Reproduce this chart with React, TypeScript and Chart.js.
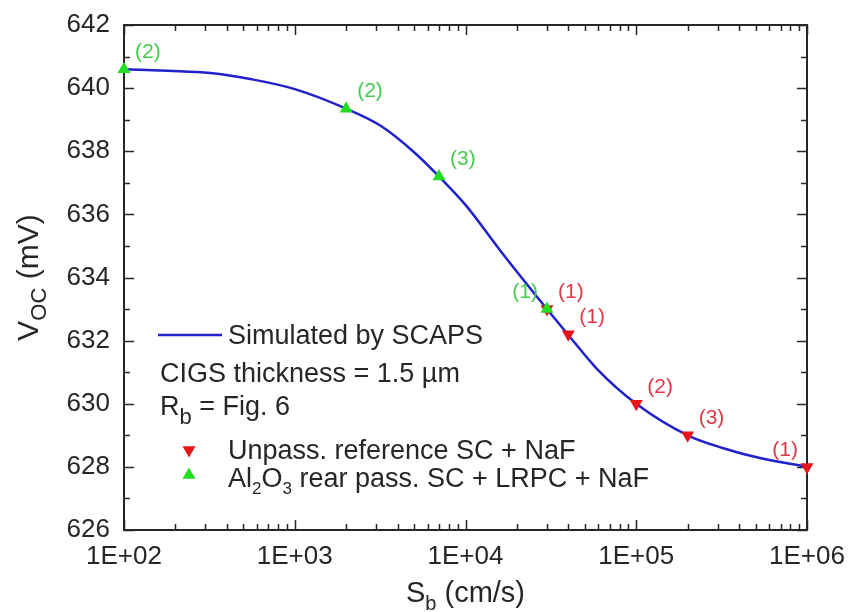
import React, { useEffect, useRef } from 'react';
import { Chart, registerables } from 'chart.js';

Chart.register(...registerables);

// ---- data ----
const curveSb = [100, 180, 320, 560, 1000, 2000, 3200, 5000, 7000, 10000, 16000, 30000, 40000, 59000, 100000, 200000, 320000, 530000, 1000000];
const curveVoc = [640.6, 640.55, 640.48, 640.28, 639.97, 639.35, 638.8, 637.97, 637.2, 636.3, 634.85, 633.0, 632.18, 631.1, 630.0, 629.0, 628.6, 628.28, 628.0];

const unpassSb = [30000, 40000, 100000, 200000, 1000000];
const unpassVoc = [633.0, 632.2, 630.0, 629.0, 628.0];
const unpassTags = ['(1)', '(1)', '(2)', '(3)', '(1)'];

const passSb = [100, 2000, 7000, 30000];
const passVoc = [640.6, 639.35, 637.2, 633.0];
const passTags = ['(2)', '(2)', '(3)', '(1)'];

const xTickLabels = ['1E+02', '1E+03', '1E+04', '1E+05', '1E+06'];
const yTickValues = [626, 628, 630, 632, 634, 636, 638, 640, 642];

const legendLine = 'Simulated by SCAPS';
const legendThickness = 'CIGS thickness = 1.5 \u00b5m';
const legendUnpass = 'Unpass. reference SC + NaF';
const legendPass = ' rear pass. SC + LRPC + NaF';

// ---- style ----
const FONT = '"Liberation Sans", Arial, Helvetica, sans-serif';
const BLUE = '#2020cc';
const RED = '#e8141c';
const RED_TXT = '#e03848';
const GREEN = '#22dd22';
const GREEN_TXT = '#44cc50';
const INK = '#262626';
const passAlign = ['right', 'right', 'right', 'left'];
const unpassAlign = ['right', 'right', 'right', 'right', 'left'];

type Part = { t: string; sub?: boolean };

function drawRich(ctx: CanvasRenderingContext2D, parts: Part[], x: number, y: number, size: number, subSize: number, subDy: number, align: 'left' | 'center' = 'left') {
  const widths = parts.map((p) => {
    ctx.font = `${p.sub ? subSize : size}px ${FONT}`;
    return ctx.measureText(p.t).width;
  });
  const total = widths.reduce((a, b) => a + b, 0);
  let cx = align === 'center' ? x - total / 2 : x;
  ctx.textAlign = 'left';
  ctx.textBaseline = 'alphabetic';
  parts.forEach((p, i) => {
    ctx.font = `${p.sub ? subSize : size}px ${FONT}`;
    ctx.fillText(p.t, cx, p.sub ? y + subDy : y);
    cx += widths[i];
  });
}

function tri(ctx: CanvasRenderingContext2D, x: number, y: number, r: number, down: boolean, color: string) {
  const s = down ? -1 : 1;
  ctx.beginPath();
  ctx.moveTo(x, y - s * r);
  ctx.lineTo(x + r * 0.866, y + s * r * 0.5);
  ctx.lineTo(x - r * 0.866, y + s * r * 0.5);
  ctx.closePath();
  ctx.fillStyle = color;
  ctx.fill();
}

const framePlugin = {
  id: 'frameTicks',
  beforeDatasetsDraw(chart: any) {
    const ctx: CanvasRenderingContext2D = chart.ctx;
    const { left, right, top, bottom } = chart.chartArea;
    const xs = chart.scales.x;
    const ys = chart.scales.y;
    ctx.save();
    ctx.strokeStyle = INK;
    ctx.lineWidth = 1.5;
    ctx.beginPath();
    for (let e = 2; e <= 6; e++) {
      for (let m = 1; m <= 9; m++) {
        const v = m * Math.pow(10, e);
        if (v > 1000000) break;
        const px = Math.round(xs.getPixelForValue(v)) + 0.5;
        const len = m === 1 ? 10 : 6;
        ctx.moveTo(px, bottom);
        ctx.lineTo(px, bottom - len);
        ctx.moveTo(px, top);
        ctx.lineTo(px, top + len);
      }
    }
    for (let v = 626; v <= 642; v++) {
      const py = Math.round(ys.getPixelForValue(v)) + 0.5;
      const len = v % 2 === 0 ? 10 : 6;
      ctx.moveTo(left, py);
      ctx.lineTo(left + len, py);
      ctx.moveTo(right, py);
      ctx.lineTo(right - len, py);
    }
    ctx.stroke();
    ctx.lineWidth = 2;
    ctx.strokeRect(left, top, right - left, bottom - top);
    ctx.restore();
  },
  afterDatasetsDraw(chart: any) {
    const ctx: CanvasRenderingContext2D = chart.ctx;
    ctx.save();
    ctx.font = `21px ${FONT}`;
    ctx.textBaseline = 'middle';
    const drawTags = (dsIndex: number, tags: string[], aligns: string[], color: string) => {
      const meta = chart.getDatasetMeta(dsIndex);
      meta.data.forEach((pt: any, i: number) => {
        ctx.fillStyle = color;
        if (aligns[i] === 'left') {
          ctx.textAlign = 'right';
          ctx.fillText(tags[i], pt.x - 9, pt.y - 17);
        } else {
          ctx.textAlign = 'left';
          ctx.fillText(tags[i], pt.x + 11, pt.y - 17);
        }
      });
    };
    drawTags(1, unpassTags, unpassAlign, RED_TXT);
    drawTags(2, passTags, passAlign, GREEN_TXT);
    ctx.restore();
  },
  afterDraw(chart: any) {
    const ctx: CanvasRenderingContext2D = chart.ctx;
    const { left, right, top, bottom } = chart.chartArea;
    ctx.save();
    ctx.fillStyle = INK;
    // axis titles
    drawRich(ctx, [{ t: 'S' }, { t: 'b', sub: true }, { t: ' (cm/s)' }], (left + right) / 2, 602, 29, 20, 8, 'center');
    ctx.save();
    ctx.translate(38, (top + bottom) / 2);
    ctx.rotate(-Math.PI / 2);
    drawRich(ctx, [{ t: 'V' }, { t: 'OC', sub: true }, { t: ' (mV)' }], 0, 0, 30, 22, 8, 'center');
    ctx.restore();

    // legend
    const lx = 158;
    ctx.strokeStyle = BLUE;
    ctx.lineWidth = 2.5;
    ctx.beginPath();
    ctx.moveTo(lx, 335);
    ctx.lineTo(lx + 64, 335);
    ctx.stroke();
    ctx.fillStyle = INK;
    drawRich(ctx, [{ t: legendLine }], 228, 344, 27, 18, 0);
    drawRich(ctx, [{ t: legendThickness }], 160, 382, 27, 18, 0);
    drawRich(ctx, [{ t: 'R' }, { t: 'b', sub: true }, { t: ' = Fig. 6' }], 160, 415, 27, 22, 9);
    tri(ctx, 189, 450, 7.5, true, RED);
    tri(ctx, 189, 475, 7.5, false, GREEN);
    ctx.fillStyle = INK;
    drawRich(ctx, [{ t: legendUnpass }], 228, 459, 27, 18, 0);
    drawRich(ctx, [{ t: 'Al' }, { t: '2', sub: true }, { t: 'O' }, { t: '3', sub: true }, { t: legendPass }], 228, 487, 27, 17, 7);
    ctx.restore();
  },
};

export default function App() {
  const ref = useRef<HTMLCanvasElement | null>(null);
  useEffect(() => {
    if (!ref.current) return;
    const chart = new Chart(ref.current, {
      type: 'scatter',
      data: {
        datasets: [
          {
            label: legendLine,
            data: curveSb.map((x, i) => ({ x, y: curveVoc[i] })),
            showLine: true,
            borderColor: BLUE,
            borderWidth: 2.5,
            pointRadius: 0,
            cubicInterpolationMode: 'monotone',
            order: 2,
          } as any,
          {
            label: legendUnpass,
            data: unpassSb.map((x, i) => ({ x, y: unpassVoc[i] })),
            pointStyle: 'triangle',
            pointRotation: 180,
            pointRadius: 7.5,
            backgroundColor: RED,
            borderColor: RED,
            borderWidth: 0,
            showLine: false,
            clip: false,
            order: 1,
          } as any,
          {
            label: 'Al2O3' + legendPass,
            data: passSb.map((x, i) => ({ x, y: passVoc[i] })),
            pointStyle: 'triangle',
            pointRadius: 7.5,
            backgroundColor: GREEN,
            borderColor: GREEN,
            borderWidth: 0,
            showLine: false,
            clip: false,
            order: 0,
          } as any,
        ],
      },
      options: {
        responsive: false,
        animation: false,
        devicePixelRatio: 1,
        layout: { padding: { top: 25, right: 43, left: 0, bottom: 0 } },
        plugins: { legend: { display: false }, tooltip: { enabled: false } },
        scales: {
          x: {
            type: 'logarithmic',
            min: 100,
            max: 1000000,
            grid: { display: false, drawTicks: false },
            border: { display: false },
            afterFit: (s: any) => { s.height = 82; s.paddingLeft = 0; s.paddingRight = 0; },
            ticks: {
              autoSkip: false,
              maxRotation: 0,
              padding: 11,
              color: INK,
              font: { family: FONT, size: 26 },
              callback: (v: any) => {
                const e = Math.log10(Number(v));
                if (Math.abs(e - Math.round(e)) > 1e-6) return '';
                const idx = Math.round(e) - 2;
                return xTickLabels[idx] ?? '';
              },
            },
          },
          y: {
            type: 'linear',
            min: 626,
            max: 642,
            grid: { display: false, drawTicks: false },
            border: { display: false },
            afterFit: (s: any) => { s.width = 124; s.paddingTop = 0; s.paddingBottom = 0; },
            afterBuildTicks: (s: any) => { s.ticks = yTickValues.map((value) => ({ value })); },
            ticks: {
              padding: 14,
              color: INK,
              font: { family: FONT, size: 26 },
            },
          },
        },
      } as any,
      plugins: [framePlugin],
    });
    return () => chart.destroy();
  }, []);
  return (
    <div style={{ position: 'absolute', left: 0, top: 0, width: 850, height: 612, background: '#fff' }}>
      <canvas ref={ref} width={850} height={612} style={{ width: 850, height: 612, display: 'block' }} />
    </div>
  );
}
